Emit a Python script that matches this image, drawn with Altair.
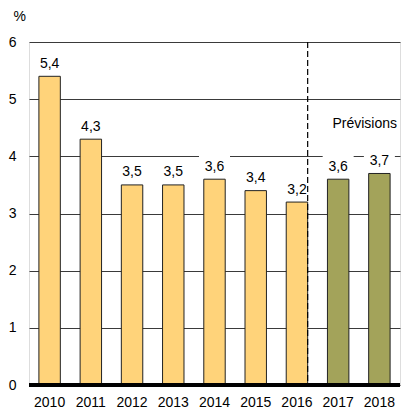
import altair as alt
import pandas as pd

years = ["2010", "2011", "2012", "2013", "2014", "2015", "2016", "2017", "2018"]
values = [5.4, 4.3, 3.5, 3.5, 3.6, 3.4, 3.2, 3.6, 3.7]
kinds = ["Réel"] * 7 + ["Prévision"] * 2
labels = ["5,4", "4,3", "3,5", "3,5", "3,6", "3,4", "3,2", "3,6", "3,7"]

df = pd.DataFrame({"year": years, "value": values, "kind": kinds, "label": labels})
one = pd.DataFrame({"a": [0]})

FONT = "Liberation Sans"
FS = 14
PX = 6 / 343.0  # data units per pixel

xenc = alt.X("year:N", sort=years,
             scale=alt.Scale(paddingInner=0.48, paddingOuter=0.24),
             axis=alt.Axis(title=None, labelAngle=0, domain=False, ticks=False,
                           labelPadding=10, labelFontSize=FS, labelFont=FONT,
                           labelColor="#000"))
yscale = alt.Scale(domain=[0, 6], nice=False)

base = alt.Chart(df)

boxes = base.transform_calculate(
    lo=f"datum.value + {2*PX}", hi=f"datum.value + {25*PX}"
).mark_bar(width=31, color="white").encode(
    x=xenc,
    y=alt.Y("lo:Q", scale=yscale,
            axis=alt.Axis(title="%", titleAngle=0, titleAlign="left",
                          titleX=-16, titleY=-22, titleBaseline="alphabetic",
                          titleFontSize=FS, titleFont=FONT, titleFontWeight="normal",
                          titleColor="#000", format="d",
                          values=[0, 1, 2, 3, 4, 5, 6], domain=False, ticks=False,
                          labelPadding=13, labelFontSize=FS, labelFont=FONT,
                          labelColor="#000", grid=True, gridColor="#3a3a3a",
                          gridWidth=1)),
    y2="hi:Q",
)

bars = base.mark_bar(stroke="#222", strokeWidth=1).encode(
    x=alt.X("year:N", sort=years),
    y=alt.Y("value:Q", scale=yscale),
    color=alt.Color("kind:N", scale=alt.Scale(domain=["Réel", "Prévision"],
                                              range=["#FFD37A", "#A3A35A"]),
                    legend=None),
)

texts = base.mark_text(dy=-12.5, baseline="middle", fontSize=FS, font=FONT,
                       color="#000").encode(
    x=alt.X("year:N", sort=years),
    y=alt.Y("value:Q", scale=yscale),
    text="label:N",
)

baseline = alt.Chart(one).mark_rule(color="#000", strokeWidth=4).encode(
    y=alt.datum(0)
)

sep = alt.Chart(one).mark_rule(color="#000", strokeWidth=1.2,
                               strokeDash=[6, 3]).encode(
    x=alt.X(datum="2016", type="nominal", bandPosition=1)
)

prev = alt.Chart(one).mark_text(text="Prévisions", align="left", baseline="middle",
                                dx=5, fontSize=FS, font=FONT, color="#000").encode(
    x=alt.X(datum="2017", type="nominal", bandPosition=0),
    y=alt.datum(4.56),
)

chart = alt.layer(boxes, bars, texts, baseline, sep, prev).properties(
    width=371, height=343,
    autosize=alt.AutoSizeParams(type="none"),
    padding={"left": 21, "top": 34, "right": 10, "bottom": 25},
).configure_view(stroke=None).configure(background="white")

chart.save("out.html", embed_options={"renderer": "svg", "actions": False})
